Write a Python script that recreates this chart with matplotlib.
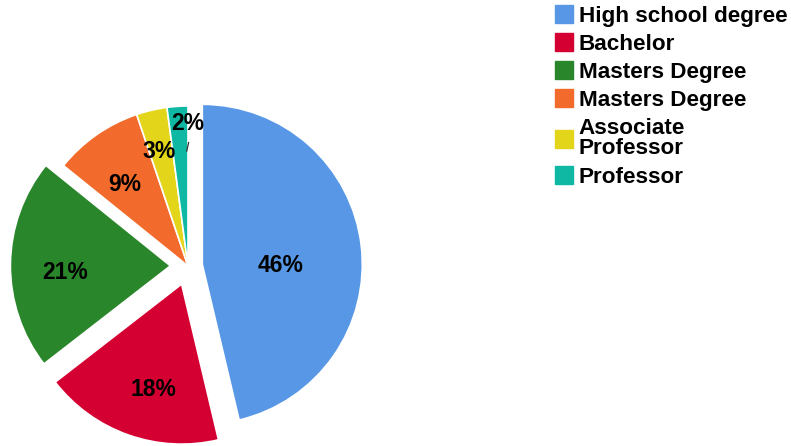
import numpy as np
import matplotlib
matplotlib.use("Agg")
import matplotlib.pyplot as plt
from matplotlib.patches import Patch

plt.rcParams['font.family'] = ['Liberation Sans', 'DejaVu Sans']

labels = ["High school degree", "Bachelor", "Masters Degree", "Masters Degree",
          "Associate\nProfessor", "Professor"]
shares = [46.3, 18.2, 21.3, 9.0, 3.1, 2.1]
pct_text = ["46%", "18%", "21%", "9%", "3%", "2%"]
colors = ["#5797E5", "#D50032", "#2A862A", "#F26B2C", "#E3D51A", "#0FB8A2"]
explode = [0.09, 0.12, 0.11, 0.0, 0.0, 0.0]

W, H = 791, 446
fig = plt.figure(figsize=(W / 100, H / 100), dpi=100)
# pie centre at pixel (188, 266), radius 160 px
R = 160
lim = 1.2
size = 2 * lim * R
ax = fig.add_axes([(188 - size / 2) / W, (H - 266 - size / 2) / H, size / W, size / H])

wedges, _ = ax.pie(shares, colors=colors, explode=explode, startangle=90,
                   counterclock=False,
                   wedgeprops=dict(edgecolor="white", linewidth=1.2))
ax.set_xlim(-lim, lim)
ax.set_ylim(-lim, lim)
ax.set_aspect("equal")
ax.axis("off")

# label distances (fraction of radius) per wedge, plus small nudges
label_r = [0.49, 0.68, 0.66, 0.66, 0.76, 0.90]
label_dx = [0.0, 0.05, 0.0, -0.02, -0.01, 0.0]
label_dy = [0.0, -0.02, -0.05, -0.03, -0.025, -0.01]
for i, (w, txt, lr) in enumerate(zip(wedges, pct_text, label_r)):
    ang = np.deg2rad((w.theta1 + w.theta2) / 2)
    cx, cy = w.center
    x = cx + lr * np.cos(ang) + label_dx[i]
    y = cy + lr * np.sin(ang) + label_dy[i]
    if i == 0:
        y = cy - 0.01
    if txt == "2%":
        x, y = 0.0, 0.89
        ax.annotate("", xy=(-0.012, 0.70), xytext=(0.008, 0.79),
                    arrowprops=dict(arrowstyle="-", color="#333333", lw=0.9))
    ax.text(x, y, txt, ha="center", va="center", fontsize=16.5,
            fontweight="bold", color="black")

handles = [Patch(facecolor=c, edgecolor=c) for c in colors]
leg = fig.legend(handles, labels, loc="upper left",
                 bbox_to_anchor=(553 / W, 1.0 - 3 / H),
                 frameon=False, prop=dict(size=16.2, weight="bold"),
                 handlelength=0.8, handleheight=0.85, handletextpad=0.25,
                 labelspacing=0.28, borderaxespad=0, borderpad=0.1)
for t in leg.get_texts():
    t.set_linespacing(1.0)

fig.savefig("out.png", dpi=100)
